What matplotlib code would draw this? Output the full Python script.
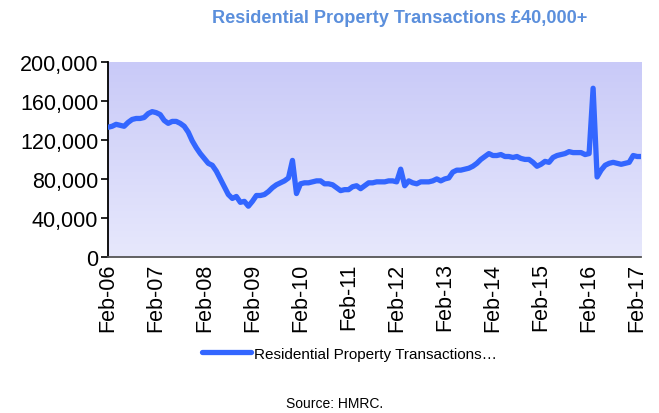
import numpy as np
import matplotlib
matplotlib.use("Agg")
import matplotlib.pyplot as plt
from matplotlib.ticker import FuncFormatter

plt.rcParams['font.family'] = ['Liberation Sans', 'DejaVu Sans']

# monthly transactions, Feb-06 .. Mar-17 (thousands)
transactions_k = [
    133, 134, 136, 135, 134, 138, 141, 142, 142, 143, 147, 149,   # Feb06-Jan07
    148, 146, 140, 137, 139, 139, 137, 134, 128, 119, 112, 106,   # Feb07-Jan08
    101, 96, 94, 88, 80, 72, 64, 60, 62, 56, 57, 52,              # Feb08-Jan09
    57, 63, 63, 64, 67, 71, 74, 76, 78, 81, 99, 65,               # Feb09-Jan10
    75, 76, 76, 77, 78, 78, 75, 75, 74, 71, 68, 69,               # Feb10-Jan11
    69, 72, 73, 70, 73, 76, 76, 77, 77, 77, 78, 78,               # Feb11-Jan12
    77, 90, 73, 78, 76, 75, 77, 77, 77, 78, 80, 78,               # Feb12-Jan13
    80, 81, 87, 89, 89, 90, 91, 93, 96, 100, 103, 106,            # Feb13-Jan14
    104, 104, 105, 103, 103, 102, 103, 101, 100, 100, 97, 93,     # Feb14-Jan15
    95, 98, 97, 102, 104, 105, 106, 108, 107, 107, 107, 105,      # Feb15-Jan16
    106, 173, 82, 89, 94, 96, 97, 96, 95, 96, 97, 104,            # Feb16-Jan17
    103, 103,                                                     # Feb17-Mar17
]
tick_labels = ['Feb-06', 'Feb-07', 'Feb-08', 'Feb-09', 'Feb-10', 'Feb-11',
               'Feb-12', 'Feb-13', 'Feb-14', 'Feb-15', 'Feb-16', 'Feb-17']
series_name = 'Residential Property Transactions\u2026'

values = np.array(transactions_k) * 1000
months = np.arange(len(values))

fig = plt.figure(figsize=(6.59, 4.14), dpi=100)
ax = fig.add_axes([0.164, 0.377, 0.809, 0.471])

# background gradient of the plot area
grad = np.linspace(0, 1, 256).reshape(-1, 1)
cmap = matplotlib.colors.LinearSegmentedColormap.from_list('bg', ['#E7E8FC', '#C9CAF8'])
ax.imshow(grad, aspect='auto', cmap=cmap, origin='lower',
          extent=(0, 1, 0, 1), transform=ax.transAxes, zorder=0)

ax.plot(months, values, color='#3366FF', lw=3.8, solid_capstyle='round',
        solid_joinstyle='round', label=series_name, zorder=3)

ax.set_xlim(0, len(values) - 1)
ax.set_ylim(0, 200000)
ax.set_yticks(np.arange(0, 200001, 40000))
ax.yaxis.set_major_formatter(FuncFormatter(lambda v, p: f'{int(v):,}'))
ax.set_xticks(np.arange(0, len(values), 12))
ax.set_xticklabels(tick_labels, rotation=90)

ax.tick_params(axis='y', labelsize=15.5, length=5, width=1.2, direction='out', pad=2)
ax.tick_params(axis='x', labelsize=15.5, length=0, pad=4)
for s in ['top', 'right']:
    ax.spines[s].set_visible(False)
ax.spines['left'].set_linewidth(1.3)
ax.spines['bottom'].set_linewidth(1.3)
ax.spines['bottom'].set_color('#555555')

fig.text(0.607, 0.955, 'Residential Property Transactions \u00a340,000+',
         ha='center', va='center', fontsize=13.1, fontweight='bold', color='#5B8FDC')

fig.legend(loc='center', bbox_to_anchor=(0.531, 0.143), frameon=False,
           fontsize=11, handlelength=3.2, handletextpad=0.2)

fig.text(0.508, 0.024, 'Source: HMRC.', ha='center', va='center', fontsize=10)

fig.savefig('out.png', dpi=100)
